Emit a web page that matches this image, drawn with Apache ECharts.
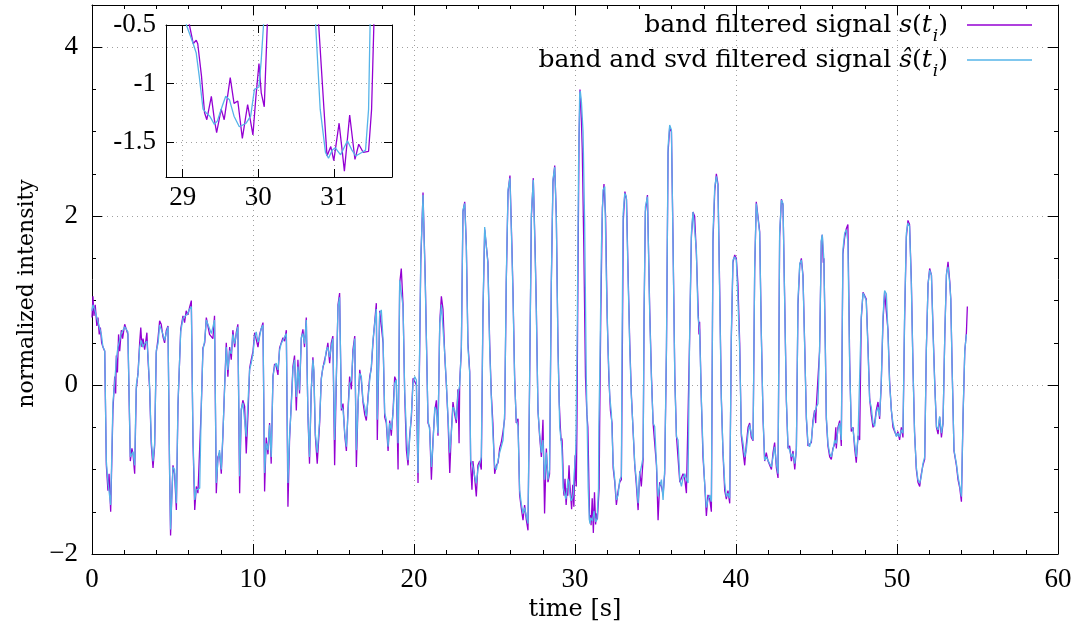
<!DOCTYPE html>
<html><head><meta charset="utf-8">
<script src="https://cdn.jsdelivr.net/npm/echarts@6/dist/echarts.min.js"></script>
<style>html,body{margin:0;padding:0;background:#fff}#c{width:1086px;height:635px}</style>
</head><body><div id="c"></div>
<script>
// ---- data (time [s], normalized intensity) ----
const bandSignal = [
[0.0,0.8],[0.06,1.05],[0.12,0.82],[0.2,0.95],[0.3,0.7],[0.37,0.8],[0.45,0.6],[0.52,0.68],[0.6,0.5],[0.68,0.45],[0.79,0.4],[0.89,-0.95],[0.99,-1.25],[1.06,-1.05],[1.16,-1.5],[1.3,-0.3],[1.41,0.1],[1.47,-0.1],[1.51,0.35],[1.58,0.15],[1.65,0.6],[1.72,0.4],[1.82,0.65],[1.9,0.55],[2.03,0.72],[2.13,0.74],[2.23,0.6],[2.38,-0.9],[2.48,-0.75],[2.55,-0.82],[2.65,-1.05],[2.75,-0.05],[2.86,0.15],[2.96,0.5],[3.03,0.68],[3.1,0.45],[3.17,0.55],[3.27,0.42],[3.41,0.62],[3.48,0.3],[3.58,-0.05],[3.68,-0.7],[3.79,-0.98],[3.89,-0.72],[3.99,0.38],[4.1,0.55],[4.2,0.76],[4.3,0.72],[4.41,0.57],[4.51,0.5],[4.62,0.65],[4.72,0.7],[4.82,-1.05],[4.88,-1.78],[4.96,-1.3],[5.03,-0.95],[5.13,-1.05],[5.24,-1.48],[5.34,-0.25],[5.51,0.66],[5.65,0.82],[5.75,0.74],[5.85,0.88],[5.96,0.83],[6.06,0.92],[6.17,1.0],[6.27,-0.65],[6.38,-1.48],[6.48,-1.2],[6.58,-1.28],[6.69,-1.28],[6.79,-0.25],[6.89,0.44],[7.0,0.5],[7.1,0.8],[7.2,0.82],[7.3,0.6],[7.41,0.58],[7.51,0.55],[7.61,0.82],[7.72,-1.28],[7.82,-0.85],[7.92,-0.8],[8.03,-1.05],[8.13,-0.6],[8.24,0.0],[8.34,0.5],[8.44,0.1],[8.55,0.45],[8.65,0.3],[8.75,0.65],[8.86,0.45],[8.96,0.62],[9.06,0.72],[9.17,-1.28],[9.27,-0.3],[9.37,-0.18],[9.48,-0.25],[9.58,-0.81],[9.7,-0.3],[9.79,0.2],[9.89,0.3],[10.0,0.4],[10.1,0.62],[10.2,0.6],[10.31,0.45],[10.41,0.6],[10.51,0.62],[10.62,0.74],[10.72,-1.26],[10.82,-0.62],[10.93,-0.82],[11.03,-0.45],[11.13,-0.93],[11.24,0.1],[11.34,0.25],[11.44,0.22],[11.55,0.12],[11.65,0.44],[11.75,0.45],[11.86,0.56],[11.96,0.52],[12.07,0.65],[12.17,-1.44],[12.27,-0.65],[12.38,-0.2],[12.48,0.22],[12.58,0.35],[12.69,-0.3],[12.79,0.3],[12.89,-0.1],[13.0,0.55],[13.1,0.66],[13.2,0.45],[13.31,0.8],[13.41,-0.35],[13.51,-0.93],[13.62,-0.05],[13.72,0.33],[13.78,0.15],[13.87,-0.6],[13.99,-0.93],[14.14,-0.45],[14.24,0.08],[14.34,0.2],[14.45,0.3],[14.55,0.38],[14.65,0.5],[14.76,0.26],[14.86,0.5],[14.96,0.58],[15.07,-0.95],[15.18,0.1],[15.28,0.95],[15.38,1.09],[15.49,-0.3],[15.59,-0.22],[15.7,-0.6],[15.8,-0.78],[15.9,-0.3],[16.0,0.1],[16.11,-0.05],[16.21,0.42],[16.32,0.58],[16.42,-0.97],[16.53,-0.2],[16.63,0.18],[16.73,0.05],[16.83,-0.2],[16.94,-0.35],[17.04,-0.42],[17.14,-0.15],[17.25,0.1],[17.35,0.2],[17.45,0.5],[17.56,0.75],[17.66,0.97],[17.72,-0.65],[17.87,0.88],[17.97,0.86],[18.08,0.5],[18.18,-0.38],[18.28,-0.45],[18.39,-0.78],[18.49,-0.42],[18.59,-0.6],[18.7,-0.3],[18.8,0.1],[18.9,0.05],[19.01,-1.0],[19.11,1.2],[19.21,1.38],[19.32,0.95],[19.42,-0.1],[19.53,-0.77],[19.63,-0.95],[19.73,-0.6],[19.84,-0.38],[19.94,0.08],[20.04,0.1],[20.15,0.0],[20.25,-1.16],[20.42,1.45],[20.56,2.28],[20.7,1.25],[20.87,-0.45],[20.97,-0.5],[21.08,-1.12],[21.18,-0.65],[21.29,-0.3],[21.39,-0.18],[21.49,-0.6],[21.6,0.75],[21.7,1.05],[21.8,0.9],[21.91,0.35],[22.01,0.0],[22.11,-0.4],[22.22,-1.04],[22.32,-0.55],[22.42,-0.2],[22.53,-0.35],[22.63,-0.45],[22.73,-0.05],[22.8,-0.69],[22.84,0.05],[22.94,0.4],[23.04,2.05],[23.15,2.17],[23.25,1.66],[23.35,0.5],[23.46,0.16],[23.52,-0.95],[23.6,-1.24],[23.66,-0.9],[23.77,-1.1],[23.87,-1.32],[23.97,-0.95],[24.08,-0.9],[24.18,-1.0],[24.28,0.8],[24.39,1.84],[24.49,1.86],[24.59,1.46],[24.7,0.5],[24.8,-0.1],[24.9,-0.45],[25.01,-1.05],[25.11,-0.95],[25.22,-0.92],[25.32,-0.75],[25.42,-0.68],[25.53,-0.55],[25.63,-0.4],[25.73,1.2],[25.84,2.28],[25.96,2.48],[26.08,1.65],[26.15,1.1],[26.25,0.1],[26.35,-0.45],[26.46,-0.4],[26.56,-1.3],[26.66,-1.45],[26.77,-1.6],[26.87,-1.42],[26.98,-1.6],[27.08,-1.72],[27.18,0.0],[27.29,1.98],[27.41,2.45],[27.53,1.55],[27.6,0.9],[27.7,-0.3],[27.8,-0.6],[27.91,-0.85],[28.01,-0.41],[28.11,-1.52],[28.22,-0.75],[28.32,-1.15],[28.42,-1.05],[28.53,1.2],[28.63,2.4],[28.74,2.6],[28.84,2.0],[28.94,0.5],[29.02,-0.2],[29.09,-0.5],[29.14,-0.66],[29.18,-0.63],[29.2,-0.66],[29.25,-0.94],[29.29,-1.25],[29.32,-1.31],[29.38,-1.11],[29.42,-1.31],[29.45,-1.42],[29.51,-1.22],[29.55,-1.31],[29.63,-0.95],[29.68,-1.17],[29.73,-1.15],[29.79,-1.47],[29.86,-1.18],[29.93,-1.44],[29.97,-1.11],[30.01,-0.83],[30.04,-1.08],[30.08,-1.2],[30.12,-0.5],[30.18,1.2],[30.25,2.9],[30.31,3.5],[30.37,3.3],[30.45,2.8],[30.55,1.6],[30.65,0.1],[30.74,-0.35],[30.8,-0.5],[30.87,-1.22],[30.91,-1.62],[30.96,-1.54],[31.0,-1.66],[31.07,-1.34],[31.11,-1.57],[31.14,-1.75],[31.21,-1.27],[31.28,-1.65],[31.33,-1.52],[31.39,-1.59],[31.46,-1.58],[31.5,-1.22],[31.53,-0.5],[31.6,0.8],[31.7,2.1],[31.8,2.38],[31.9,2.0],[32.0,0.8],[32.1,0.1],[32.2,-0.3],[32.3,-0.45],[32.37,-0.98],[32.47,-1.15],[32.57,-1.42],[32.68,-1.25],[32.78,-1.15],[32.88,-1.12],[32.94,0.4],[33.0,1.95],[33.1,2.29],[33.2,2.2],[33.3,1.3],[33.4,0.5],[33.5,-0.1],[33.61,-0.55],[33.71,-0.95],[33.81,-1.18],[33.92,-1.48],[34.02,-1.02],[34.12,-1.2],[34.23,-0.88],[34.29,0.8],[34.37,2.05],[34.5,2.25],[34.64,0.9],[34.75,0.1],[34.85,-0.45],[34.95,-0.45],[35.06,-0.95],[35.16,-1.6],[35.26,-1.15],[35.37,-1.2],[35.47,-1.3],[35.57,-1.05],[35.68,0.4],[35.78,2.75],[35.88,3.05],[35.99,3.0],[36.09,1.7],[36.2,0.1],[36.3,-0.6],[36.4,-0.6],[36.51,-1.15],[36.61,-1.15],[36.71,-1.05],[36.82,-1.12],[36.92,-1.28],[37.02,-1.28],[37.12,0.55],[37.23,1.75],[37.33,2.05],[37.43,2.0],[37.54,1.55],[37.64,0.95],[37.7,0.6],[37.74,0.75],[37.85,-0.2],[37.95,-0.85],[38.05,-1.15],[38.16,-1.55],[38.26,-1.3],[38.37,-1.35],[38.47,-1.5],[38.57,1.7],[38.68,2.3],[38.78,2.5],[38.88,2.38],[38.99,1.1],[39.09,-0.15],[39.19,-0.8],[39.3,-1.25],[39.4,-1.35],[39.5,-1.25],[39.61,-1.4],[39.71,0.55],[39.81,1.45],[39.92,1.54],[40.02,1.5],[40.12,1.2],[40.23,0.5],[40.33,-0.6],[40.44,-0.62],[40.54,-0.95],[40.64,-0.7],[40.75,-0.5],[40.85,-0.45],[40.95,-0.62],[41.06,-0.66],[41.16,1.35],[41.26,2.17],[41.37,2.15],[41.47,1.82],[41.57,0.65],[41.68,-0.4],[41.78,-0.9],[41.88,-0.8],[41.99,-0.9],[42.09,-0.88],[42.2,-1.0],[42.3,-0.8],[42.4,-0.68],[42.51,-0.98],[42.61,-1.1],[42.71,1.75],[42.82,2.2],[42.92,2.13],[43.02,1.05],[43.13,-0.2],[43.23,-0.75],[43.33,-0.72],[43.44,-0.9],[43.54,-0.78],[43.65,-1.0],[43.75,-0.75],[43.85,0.95],[43.96,1.42],[44.06,1.5],[44.16,1.3],[44.27,0.45],[44.37,-0.4],[44.47,-0.72],[44.57,-0.7],[44.68,-0.68],[44.78,-0.42],[44.88,-0.3],[44.95,-0.45],[44.99,-0.25],[45.09,-0.25],[45.19,0.4],[45.3,1.7],[45.36,1.78],[45.42,1.45],[45.46,1.5],[45.55,0.45],[45.61,-0.4],[45.71,-0.72],[45.82,-0.85],[45.92,-0.88],[46.02,-0.75],[46.13,-0.7],[46.2,-0.5],[46.23,-0.75],[46.33,-0.5],[46.44,-0.42],[46.54,-0.72],[46.64,1.55],[46.75,1.75],[46.85,1.85],[46.95,1.9],[47.06,0.3],[47.16,-0.55],[47.27,-0.5],[47.37,-0.75],[47.47,-0.92],[47.58,-0.6],[47.68,-0.65],[47.78,0.78],[47.89,1.1],[47.99,1.1],[48.09,1.02],[48.2,0.45],[48.3,-0.15],[48.4,-0.35],[48.51,-0.5],[48.61,-0.45],[48.71,-0.3],[48.82,-0.2],[48.92,-0.4],[49.02,0.0],[49.13,0.75],[49.23,1.1],[49.34,1.1],[49.44,0.65],[49.54,0.05],[49.65,-0.3],[49.75,-0.5],[49.85,-0.55],[49.96,-0.6],[50.06,-0.55],[50.16,-0.65],[50.27,-0.5],[50.37,-0.62],[50.47,0.75],[50.58,1.75],[50.68,1.95],[50.78,1.9],[50.89,1.25],[50.99,0.25],[51.09,-0.55],[51.2,-1.0],[51.3,-1.15],[51.41,-1.2],[51.51,-1.05],[51.61,-0.95],[51.72,-0.88],[51.82,0.4],[51.93,1.2],[52.03,1.38],[52.14,1.3],[52.24,0.65],[52.34,0.05],[52.45,-0.5],[52.55,-0.58],[52.65,-0.38],[52.76,-0.62],[52.86,-0.45],[52.97,0.6],[53.07,1.3],[53.17,1.46],[53.28,1.22],[53.34,1.02],[53.42,0.25],[53.54,-0.78],[53.69,-0.95],[53.79,-1.12],[53.9,-1.22],[54.0,-1.38],[54.1,-0.4],[54.21,0.4],[54.31,0.62],[54.37,0.93]
];
const svdSignal = [
[0.0,0.88],[0.06,0.95],[0.16,0.9],[0.37,0.75],[0.58,0.6],[0.68,0.45],[0.79,0.41],[0.89,-0.9],[0.99,-1.15],[1.16,-1.42],[1.3,-0.21],[1.41,0.03],[1.51,0.3],[1.61,0.45],[1.82,0.61],[2.03,0.69],[2.13,0.71],[2.23,0.63],[2.38,-0.85],[2.55,-0.79],[2.65,-0.95],[2.75,0.0],[2.86,0.13],[2.96,0.45],[3.06,0.53],[3.17,0.45],[3.27,0.49],[3.41,0.52],[3.48,0.35],[3.58,-0.02],[3.68,-0.65],[3.79,-0.9],[3.89,-0.69],[3.99,0.41],[4.1,0.49],[4.2,0.71],[4.3,0.69],[4.41,0.6],[4.51,0.53],[4.62,0.62],[4.72,0.69],[4.82,-1.0],[4.88,-1.71],[4.96,-1.3],[5.03,-0.97],[5.13,-1.0],[5.24,-1.4],[5.34,-0.21],[5.51,0.63],[5.65,0.79],[5.75,0.77],[5.96,0.85],[6.06,0.9],[6.17,0.93],[6.27,-0.61],[6.38,-1.36],[6.48,-1.24],[6.69,-1.22],[6.79,-0.22],[6.89,0.41],[7.0,0.53],[7.1,0.77],[7.2,0.79],[7.41,0.61],[7.51,0.59],[7.61,0.77],[7.72,-1.16],[7.82,-0.89],[7.92,-0.77],[8.03,-1.0],[8.13,-0.58],[8.24,-0.02],[8.34,0.45],[8.44,0.18],[8.55,0.41],[8.65,0.37],[8.75,0.6],[8.86,0.49],[8.96,0.6],[9.06,0.69],[9.17,-1.08],[9.27,-0.28],[9.37,-0.21],[9.48,-0.2],[9.58,-0.61],[9.79,0.18],[9.89,0.26],[10.0,0.37],[10.1,0.57],[10.2,0.63],[10.31,0.51],[10.41,0.57],[10.51,0.67],[10.62,0.71],[10.72,-1.04],[10.82,-0.69],[10.93,-0.77],[11.03,-0.47],[11.13,-0.85],[11.24,0.1],[11.34,0.22],[11.44,0.26],[11.55,0.18],[11.65,0.41],[11.75,0.49],[11.86,0.53],[11.96,0.57],[12.07,0.61],[12.17,-1.16],[12.27,-0.61],[12.38,-0.24],[12.48,0.18],[12.58,0.3],[12.69,-0.14],[12.79,0.22],[12.89,-0.06],[13.0,0.57],[13.1,0.61],[13.2,0.49],[13.31,0.77],[13.41,-0.34],[13.51,-0.85],[13.62,-0.06],[13.72,0.3],[13.78,0.18],[13.87,-0.57],[13.99,-0.8],[14.14,-0.41],[14.24,0.06],[14.34,0.22],[14.45,0.26],[14.55,0.41],[14.65,0.45],[14.76,0.33],[14.86,0.45],[14.96,0.55],[15.07,-0.65],[15.18,0.14],[15.28,0.93],[15.38,1.04],[15.49,-0.26],[15.59,-0.29],[15.7,-0.57],[15.8,-0.73],[15.9,-0.33],[16.0,0.02],[16.11,0.06],[16.21,0.37],[16.32,0.55],[16.42,-0.77],[16.53,-0.2],[16.63,0.14],[16.73,0.1],[16.83,-0.18],[16.94,-0.26],[17.04,-0.37],[17.14,-0.18],[17.25,0.06],[17.35,0.22],[17.45,0.53],[17.56,0.73],[17.66,0.9],[17.72,-0.41],[17.87,0.85],[17.97,0.89],[18.08,0.53],[18.18,-0.33],[18.28,-0.41],[18.39,-0.73],[18.49,-0.45],[18.59,-0.53],[18.7,-0.33],[18.8,0.02],[18.9,0.06],[19.01,-0.69],[19.11,1.24],[19.21,1.24],[19.32,0.93],[19.42,-0.06],[19.53,-0.57],[19.63,-0.89],[19.73,-0.65],[19.84,-0.33],[19.94,0.02],[20.04,0.1],[20.15,0.06],[20.25,-1.04],[20.42,1.5],[20.56,2.25],[20.7,1.2],[20.87,-0.41],[20.97,-0.53],[21.08,-0.97],[21.18,-0.7],[21.29,-0.26],[21.39,-0.3],[21.49,-0.57],[21.6,0.73],[21.7,0.95],[21.8,0.93],[21.91,0.37],[22.01,0.02],[22.11,-0.37],[22.22,-0.8],[22.32,-0.57],[22.42,-0.26],[22.53,-0.3],[22.63,-0.41],[22.73,-0.1],[22.84,0.0],[22.94,0.45],[23.04,2.07],[23.15,2.15],[23.25,1.64],[23.35,0.45],[23.46,0.14],[23.52,-0.89],[23.66,-0.97],[23.77,-1.08],[23.87,-1.16],[23.97,-1.0],[24.08,-0.93],[24.18,-0.85],[24.28,0.85],[24.39,1.87],[24.49,1.85],[24.59,1.44],[24.7,0.45],[24.8,-0.14],[24.9,-0.57],[25.01,-0.97],[25.11,-1.0],[25.22,-0.89],[25.32,-0.8],[25.42,-0.73],[25.53,-0.65],[25.63,-0.33],[25.73,1.24],[25.84,2.31],[25.96,2.45],[26.08,1.6],[26.15,1.05],[26.25,0.06],[26.35,-0.41],[26.46,-0.49],[26.56,-1.24],[26.66,-1.4],[26.77,-1.52],[26.87,-1.45],[26.98,-1.55],[27.08,-1.64],[27.18,0.06],[27.29,2.03],[27.41,2.43],[27.53,1.5],[27.6,0.85],[27.7,-0.3],[27.8,-0.57],[27.91,-0.8],[28.01,-0.65],[28.11,-1.12],[28.22,-0.8],[28.32,-1.12],[28.42,-1.0],[28.53,1.24],[28.63,2.43],[28.74,2.58],[28.84,1.98],[28.94,0.45],[29.05,-0.5],[29.14,-0.66],[29.18,-0.74],[29.22,-0.94],[29.27,-1.22],[29.31,-1.25],[29.36,-1.28],[29.42,-1.35],[29.46,-1.32],[29.51,-1.22],[29.57,-1.11],[29.62,-1.14],[29.68,-1.28],[29.75,-1.37],[29.84,-1.34],[29.9,-1.28],[29.95,-1.05],[30.01,-1.03],[30.04,-0.8],[30.07,-0.5],[30.15,0.9],[30.22,2.6],[30.29,3.45],[30.33,3.48],[30.4,3.35],[30.5,3.0],[30.6,1.9],[30.7,0.1],[30.76,-0.5],[30.82,-1.22],[30.89,-1.59],[30.93,-1.64],[30.98,-1.57],[31.02,-1.55],[31.09,-1.61],[31.18,-1.49],[31.24,-1.57],[31.29,-1.62],[31.37,-1.59],[31.42,-1.57],[31.46,-1.22],[31.48,-0.5],[31.55,0.3],[31.64,1.64],[31.74,2.31],[31.85,2.35],[31.95,1.24],[32.05,0.45],[32.16,-0.14],[32.26,-0.33],[32.37,-0.93],[32.47,-1.12],[32.57,-1.36],[32.68,-1.3],[32.78,-1.12],[32.88,-1.08],[32.92,0.45],[32.99,2.03],[33.09,2.27],[33.19,2.23],[33.3,1.24],[33.4,0.45],[33.5,-0.14],[33.61,-0.53],[33.71,-0.93],[33.81,-1.12],[33.92,-1.4],[34.02,-1.05],[34.12,-0.97],[34.23,-0.85],[34.29,0.85],[34.37,2.11],[34.5,2.23],[34.64,0.85],[34.75,0.06],[34.85,-0.45],[34.95,-0.49],[35.06,-0.93],[35.16,-1.32],[35.26,-1.2],[35.37,-1.12],[35.47,-1.36],[35.57,-1.0],[35.68,0.45],[35.78,2.82],[35.88,3.08],[35.99,3.02],[36.09,1.64],[36.2,0.06],[36.3,-0.61],[36.4,-0.65],[36.51,-1.12],[36.61,-1.2],[36.71,-1.1],[36.82,-1.05],[36.92,-1.12],[37.02,-1.16],[37.12,0.61],[37.23,1.8],[37.33,2.05],[37.43,2.03],[37.54,1.6],[37.64,0.81],[37.74,0.65],[37.85,-0.18],[37.95,-0.77],[38.05,-1.16],[38.16,-1.45],[38.26,-1.36],[38.37,-1.3],[38.47,-1.38],[38.57,1.8],[38.68,2.35],[38.78,2.47],[38.88,2.35],[38.99,1.01],[39.09,-0.18],[39.19,-0.77],[39.3,-1.16],[39.4,-1.32],[39.5,-1.28],[39.61,-1.34],[39.71,0.61],[39.81,1.48],[39.92,1.52],[40.02,1.48],[40.12,1.01],[40.23,0.41],[40.33,-0.57],[40.44,-0.69],[40.54,-0.85],[40.64,-0.77],[40.75,-0.57],[40.85,-0.47],[40.95,-0.57],[41.06,-0.65],[41.16,1.4],[41.26,2.15],[41.37,2.17],[41.47,1.8],[41.57,0.61],[41.68,-0.37],[41.78,-0.89],[41.88,-0.85],[41.99,-0.85],[42.09,-0.93],[42.2,-0.97],[42.3,-0.85],[42.4,-0.73],[42.51,-0.93],[42.61,-1.05],[42.71,1.8],[42.82,2.19],[42.92,2.15],[43.02,1.01],[43.13,-0.18],[43.23,-0.73],[43.33,-0.77],[43.44,-0.85],[43.54,-0.81],[43.65,-0.93],[43.75,-0.77],[43.85,1.01],[43.96,1.44],[44.06,1.48],[44.16,1.28],[44.27,0.41],[44.37,-0.37],[44.47,-0.69],[44.57,-0.73],[44.68,-0.65],[44.78,-0.45],[44.88,-0.33],[44.99,-0.26],[45.09,-0.22],[45.19,0.41],[45.3,1.72],[45.36,1.78],[45.46,1.48],[45.55,0.41],[45.61,-0.37],[45.71,-0.69],[45.82,-0.81],[45.92,-0.85],[46.02,-0.77],[46.13,-0.65],[46.23,-0.69],[46.33,-0.53],[46.44,-0.45],[46.54,-0.65],[46.64,1.6],[46.75,1.8],[46.85,1.84],[46.95,1.7],[47.06,0.22],[47.16,-0.49],[47.27,-0.53],[47.37,-0.69],[47.47,-0.85],[47.58,-0.61],[47.68,-0.61],[47.78,0.81],[47.89,1.09],[47.99,1.1],[48.09,1.0],[48.2,0.41],[48.3,-0.18],[48.4,-0.26],[48.51,-0.45],[48.61,-0.49],[48.71,-0.33],[48.82,-0.26],[48.92,-0.37],[49.02,0.02],[49.13,0.81],[49.23,1.12],[49.34,1.08],[49.44,0.61],[49.54,0.02],[49.65,-0.3],[49.75,-0.45],[49.85,-0.53],[49.96,-0.61],[50.06,-0.57],[50.16,-0.61],[50.27,-0.53],[50.37,-0.57],[50.47,0.81],[50.58,1.8],[50.68,1.92],[50.78,1.88],[50.89,1.2],[50.99,0.22],[51.09,-0.57],[51.2,-0.97],[51.3,-1.12],[51.41,-1.16],[51.51,-1.08],[51.61,-0.93],[51.72,-0.85],[51.82,0.41],[51.93,1.2],[52.03,1.36],[52.14,1.3],[52.24,0.61],[52.34,0.02],[52.45,-0.49],[52.55,-0.53],[52.65,-0.37],[52.76,-0.57],[52.86,-0.45],[52.97,0.61],[53.07,1.32],[53.17,1.4],[53.28,1.2],[53.34,1.01],[53.42,0.22],[53.54,-0.77],[53.69,-0.93],[53.79,-1.08],[53.9,-1.2],[54.0,-1.32],[54.1,-0.37],[54.21,0.41],[54.31,0.6]
];
const seriesNames = ['band filtered signal', 'band and svd filtered signal'];
const mainYTicks = [-2, 0, 2, 4];
const insetXTicks = [29, 30, 31];
const insetYTicks = [-1.5, -1, -0.5];
const axisTitles = { x: 'time [s]', y: 'normalized intensity' };

const NUMFONT = "'Liberation Serif', serif";
const TXTFONT = "'DejaVu Serif', 'Liberation Serif', serif";
const FS = 27;
const TFS = 24;
const LFS = 25;
const PURPLE = '#9400d3', BLUE = '#56b4e9';
const toMinus = v => String(v).replace('-', '\u2212');
const lbl = (extra) => Object.assign({ color: '#000', fontFamily: NUMFONT, fontSize: FS }, extra || {});
const ttl = { color: '#000', fontFamily: TXTFONT, fontSize: TFS };
const lineBlack = { show: true, onZero: false, lineStyle: { color: '#000', width: 1 } };
const tickIn = (len, extra) => Object.assign({ show: true, inside: true, length: len, lineStyle: { color: '#000', width: 1 } }, extra || {});
const dotted = { show: true, lineStyle: { color: '#a0a0a0', width: 1, type: [1, 4] } };

const chart = echarts.init(document.getElementById('c'), null, { renderer: 'canvas' });

const legendRich = {
  r: { fontFamily: TXTFONT, fontSize: LFS, color: '#000' },
  i: { fontFamily: TXTFONT, fontSize: LFS, fontStyle: 'italic', color: '#000' },
  s: { fontFamily: TXTFONT, fontSize: 17, fontStyle: 'italic', color: '#000', verticalAlign: 'bottom', padding: [0, 0, -5, 1] },
  g: { width: 14 }
};
function legendText(name) {
  if (name === seriesNames[0]) return '{r|' + name + ' }{i|s}{r|(}{i|t}{s|i}{r|)}{g|}';
  return '{r|' + name + ' }{i|\u015d}{r|(}{i|t}{s|i}{r|)}{g|}';
}
const legendBase = {
  orient: 'vertical', right: 54, align: 'right', icon: 'rect', itemWidth: 65, itemHeight: 1.5,
  padding: 0, itemGap: 0, selectedMode: false, formatter: legendText,
  textStyle: { rich: legendRich, lineHeight: 30 }
};

const lineSeries = (name, data, color, xi, yi, z) => ({
  name, type: 'line', data, xAxisIndex: xi, yAxisIndex: yi, showSymbol: false, symbol: 'none',
  lineStyle: { color, width: 1.3 }, itemStyle: { color }, clip: true, z, animation: false
});

chart.setOption({
  animation: false,
  backgroundColor: '#fff',
  grid: [
    { left: 92, top: 5, width: 966, height: 549 },
    { left: 166, top: 25, width: 226, height: 152 }
  ],
  legend: [
    Object.assign({}, legendBase, { data: [seriesNames[0]], top: 10 }),
    Object.assign({}, legendBase, { data: [seriesNames[1]], top: 45 })
  ],
  xAxis: [
    { gridIndex: 0, type: 'value', min: 0, max: 60, interval: 10, position: 'bottom',
      axisLine: lineBlack, axisTick: tickIn(10), minorTick: tickIn(4, { splitNumber: 5 }),
      axisLabel: lbl({ margin: 12 }), splitLine: dotted,
      name: axisTitles.x, nameLocation: 'middle', nameGap: 40, nameTextStyle: ttl },
    { gridIndex: 0, type: 'value', min: 0, max: 60, interval: 10, position: 'top',
      axisLine: lineBlack, axisTick: tickIn(10), minorTick: tickIn(4, { splitNumber: 5 }),
      axisLabel: { show: false }, splitLine: { show: false } },
    { gridIndex: 1, type: 'value', min: 28.78, max: 31.77, position: 'bottom',
      axisLine: lineBlack, axisTick: tickIn(8, { customValues: insetXTicks }),
      axisLabel: lbl({ margin: 7, customValues: insetXTicks }), splitLine: dotted },
    { gridIndex: 1, type: 'value', min: 28.78, max: 31.77, position: 'top',
      axisLine: lineBlack, axisTick: tickIn(8, { customValues: insetXTicks }),
      axisLabel: { show: false }, splitLine: { show: false } }
  ],
  yAxis: [
    { gridIndex: 0, type: 'value', min: -2, max: 4.5, interval: 2, position: 'left',
      axisLine: lineBlack, axisTick: tickIn(10, { customValues: mainYTicks }),
      minorTick: tickIn(4, { splitNumber: 4 }),
      axisLabel: lbl({ margin: 14, customValues: mainYTicks, formatter: v => toMinus(v) }),
      splitLine: dotted,
      name: axisTitles.y, nameLocation: 'middle', nameGap: 49, nameRotate: 90,
      nameTextStyle: Object.assign({}, ttl, { fontSize: 22, padding: [0, 28, 0, 0] }) },
    { gridIndex: 0, type: 'value', min: -2, max: 4.5, interval: 2, position: 'right',
      axisLine: lineBlack, axisTick: tickIn(10, { customValues: mainYTicks }),
      minorTick: tickIn(4, { splitNumber: 4 }),
      axisLabel: { show: false }, splitLine: { show: false } },
    { gridIndex: 1, type: 'value', min: -1.8, max: -0.5, position: 'left',
      axisLine: lineBlack, axisTick: tickIn(8, { customValues: insetYTicks }),
      axisLabel: lbl({ margin: 10, customValues: insetYTicks }), splitLine: dotted },
    { gridIndex: 1, type: 'value', min: -1.8, max: -0.5, position: 'right',
      axisLine: lineBlack, axisTick: tickIn(8, { customValues: insetYTicks }),
      axisLabel: { show: false }, splitLine: { show: false } }
  ],
  series: [
    lineSeries(seriesNames[0], bandSignal, PURPLE, 0, 0, 2),
    lineSeries(seriesNames[1], svdSignal, BLUE, 0, 0, 3),
    lineSeries(seriesNames[0], bandSignal, PURPLE, 2, 2, 4),
    lineSeries(seriesNames[1], svdSignal, BLUE, 2, 2, 5)
  ]
});
</script>
</body></html>
